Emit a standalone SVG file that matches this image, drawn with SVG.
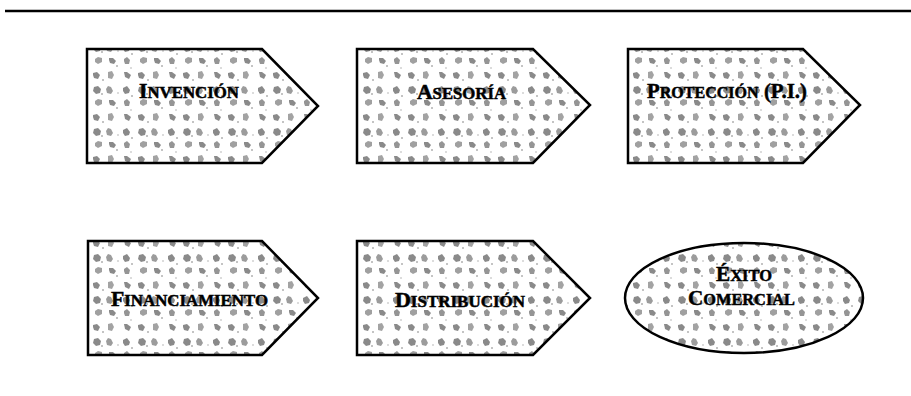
<svg xmlns="http://www.w3.org/2000/svg" width="911" height="396" viewBox="0 0 911 396">
<defs>
<pattern id="dots" x="0" y="0" width="45" height="42" patternUnits="userSpaceOnUse">
<rect width="45" height="42" fill="#ffffff"/>
<g fill="#8a8a8a">
<path d="M4,3 l4,-1 l3,3 l-1,4 l-4,1 l-3,-3z"/>
<path d="M18,2 l3,1 l2,4 l-2,3 l-4,-1 l-1,-4z" fill="#9c9c9c"/>
<path d="M33,4 l4,-2 l3,4 l-1,3 l-4,1 l-2,-3z"/>
<path d="M5,17 l3,-2 l4,1 l0,4 l-4,2 l-3,-2z" fill="#a0a0a0"/>
<path d="M19,16 l4,0 l3,3 l-2,3 l-4,-1 l-1,-3z"/>
<path d="M34,17 l3,-2 l3,3 l-1,4 l-4,0 l-1,-3z" fill="#959595"/>
<path d="M3,31 l4,-1 l3,3 l-2,4 l-4,-1 l-1,-3z"/>
<path d="M18,30 l4,-1 l2,4 l-2,4 l-4,-1z" fill="#a3a3a3"/>
<path d="M34,30 l3,0 l4,3 l-2,4 l-4,-2z"/>
</g>
<g fill="#b0b0b0">
<circle cx="12" cy="10" r="1"/><circle cx="27" cy="24" r="1"/><circle cx="42" cy="12" r="1"/><circle cx="13" cy="38" r="1"/><circle cx="28" cy="9" r="0.8"/><circle cx="41" cy="26" r="0.8"/>
</g>
</pattern>
</defs>
<style>
.shape{fill:url(#dots);stroke:#000;stroke-width:2.5;stroke-linejoin:miter}
.lbl{font-family:"Liberation Serif","Times New Roman",serif;font-weight:bold;fill:#000;stroke:#000;stroke-width:0.5}
.big{font-size:22px}
.sm{font-size:17px}
</style>
<line x1="5" y1="11" x2="911" y2="11" stroke="#000" stroke-width="2.5"/>
<g id="connectors"></g>
<g id="invencion">
<polygon class="shape" points="87,49 262,49 318,106 262,163 87,163"/>
<text class="lbl" x="139" y="98" textLength="100" lengthAdjust="spacingAndGlyphs"><tspan class="big">I</tspan><tspan class="sm">NVENCIÓN</tspan></text>
</g>
<g id="asesoria">
<polygon class="shape" points="357,49 533,49 590,105 533,163 357,163"/>
<text class="lbl" x="417" y="99" textLength="89" lengthAdjust="spacingAndGlyphs"><tspan class="big">A</tspan><tspan class="sm">SESORÍA</tspan></text>
</g>
<g id="proteccion">
<polygon class="shape" points="628,49 803,49 860,105 803,163 628,163"/>
<text class="lbl" x="647" y="98" textLength="160" lengthAdjust="spacingAndGlyphs"><tspan class="big">P</tspan><tspan class="sm">ROTECCIÓN</tspan><tspan class="big"> (P.I.)</tspan></text>
</g>
<g id="financiamiento">
<polygon class="shape" points="88,241 262,241 318,298 262,355 88,355"/>
<text class="lbl" x="111" y="306" textLength="157" lengthAdjust="spacingAndGlyphs"><tspan class="big">F</tspan><tspan class="sm">INANCIAMIENTO</tspan></text>
</g>
<g id="distribucion">
<polygon class="shape" points="357,241 533,241 590,298 533,355 357,355"/>
<text class="lbl" x="395" y="307" textLength="130" lengthAdjust="spacingAndGlyphs"><tspan class="big">D</tspan><tspan class="sm">ISTRIBUCIÓN</tspan></text>
</g>
<g id="exito">
<ellipse class="shape" cx="744" cy="298" rx="119" ry="55"/>
<text class="lbl" x="716" y="281" textLength="56" lengthAdjust="spacingAndGlyphs"><tspan class="big">É</tspan><tspan class="sm">XITO</tspan></text>
<text class="lbl" x="688" y="305" textLength="107" lengthAdjust="spacingAndGlyphs"><tspan class="big">C</tspan><tspan class="sm">OMERCIAL</tspan></text>
</g>
</svg>
